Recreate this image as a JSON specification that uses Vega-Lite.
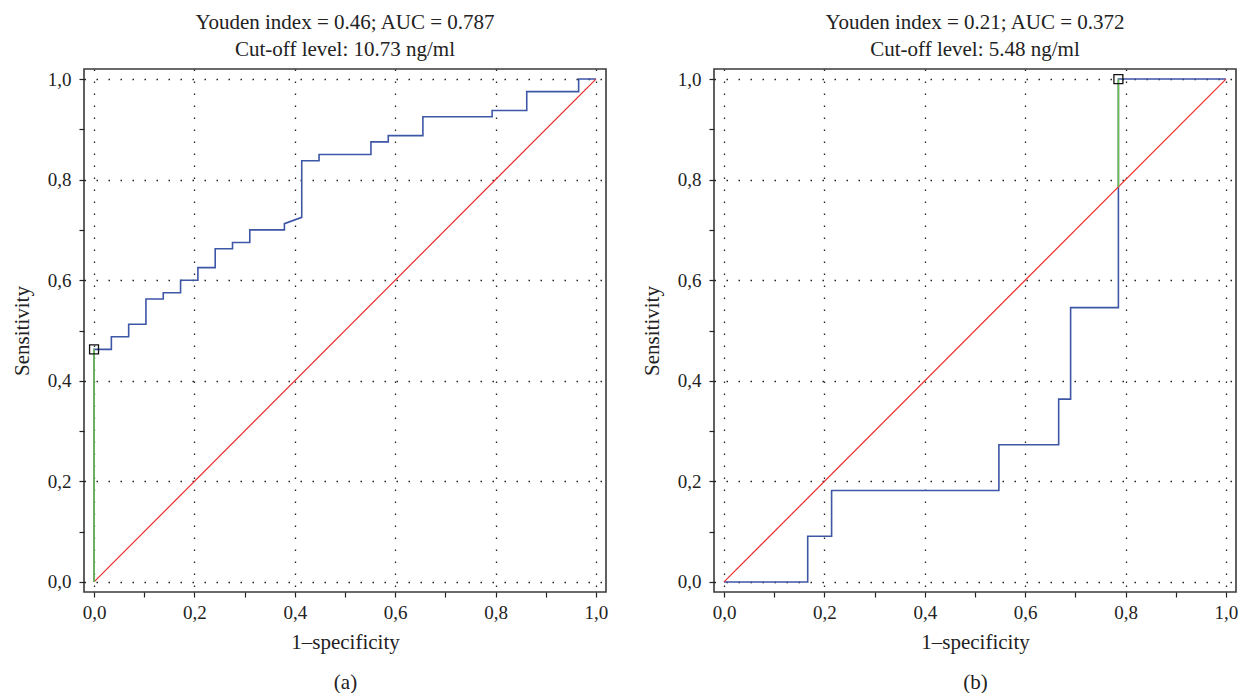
{
  "$schema": "https://vega.github.io/schema/vega-lite/v6.json",
  "padding": {"left": 10, "top": 11, "right": 0, "bottom": 0},
  "background": "white",
  "spacing": 108,
  "bounds": "flush",
  "datasets": {
    "rocA": [
      {"x": 0, "y": 0, "o": 0},
      {"x": 0, "y": 0.4625, "o": 1},
      {"x": 0.0345, "y": 0.4625, "o": 2},
      {"x": 0.0345, "y": 0.4875, "o": 3},
      {"x": 0.069, "y": 0.4875, "o": 4},
      {"x": 0.069, "y": 0.5125, "o": 5},
      {"x": 0.1034, "y": 0.5125, "o": 6},
      {"x": 0.1034, "y": 0.5625, "o": 7},
      {"x": 0.1379, "y": 0.5625, "o": 8},
      {"x": 0.1379, "y": 0.575, "o": 9},
      {"x": 0.1724, "y": 0.575, "o": 10},
      {"x": 0.1724, "y": 0.6, "o": 11},
      {"x": 0.2069, "y": 0.6, "o": 12},
      {"x": 0.2069, "y": 0.625, "o": 13},
      {"x": 0.2414, "y": 0.625, "o": 14},
      {"x": 0.2414, "y": 0.6625, "o": 15},
      {"x": 0.2759, "y": 0.6625, "o": 16},
      {"x": 0.2759, "y": 0.675, "o": 17},
      {"x": 0.3103, "y": 0.675, "o": 18},
      {"x": 0.3103, "y": 0.7, "o": 19},
      {"x": 0.3793, "y": 0.7, "o": 20},
      {"x": 0.3793, "y": 0.7125, "o": 21},
      {"x": 0.4138, "y": 0.725, "o": 22},
      {"x": 0.4138, "y": 0.8375, "o": 23},
      {"x": 0.4483, "y": 0.8375, "o": 24},
      {"x": 0.4483, "y": 0.85, "o": 25},
      {"x": 0.5517, "y": 0.85, "o": 26},
      {"x": 0.5517, "y": 0.875, "o": 27},
      {"x": 0.5862, "y": 0.875, "o": 28},
      {"x": 0.5862, "y": 0.8875, "o": 29},
      {"x": 0.6552, "y": 0.8875, "o": 30},
      {"x": 0.6552, "y": 0.925, "o": 31},
      {"x": 0.7931, "y": 0.925, "o": 32},
      {"x": 0.7931, "y": 0.9375, "o": 33},
      {"x": 0.8621, "y": 0.9375, "o": 34},
      {"x": 0.8621, "y": 0.975, "o": 35},
      {"x": 0.9655, "y": 0.975, "o": 36},
      {"x": 0.9655, "y": 1, "o": 37},
      {"x": 1, "y": 1, "o": 38}
    ],
    "diagA": [{"x": 0, "y": 0, "o": 0}, {"x": 1, "y": 1, "o": 1}],
    "youdenA": [{"x": 0, "y": 0, "o": 0}, {"x": 0, "y": 0.4625, "o": 1}],
    "cutA": [{"x": 0, "y": 0.4625}],
    "rocB": [
      {"x": 0, "y": 0, "o": 0},
      {"x": 0.1667, "y": 0, "o": 1},
      {"x": 0.1667, "y": 0.0909, "o": 2},
      {"x": 0.2143, "y": 0.0909, "o": 3},
      {"x": 0.2143, "y": 0.1818, "o": 4},
      {"x": 0.5476, "y": 0.1818, "o": 5},
      {"x": 0.5476, "y": 0.2727, "o": 6},
      {"x": 0.6667, "y": 0.2727, "o": 7},
      {"x": 0.6667, "y": 0.3636, "o": 8},
      {"x": 0.6905, "y": 0.3636, "o": 9},
      {"x": 0.6905, "y": 0.5455, "o": 10},
      {"x": 0.7857, "y": 0.5455, "o": 11},
      {"x": 0.7857, "y": 1, "o": 12},
      {"x": 1, "y": 1, "o": 13}
    ],
    "diagB": [{"x": 0, "y": 0, "o": 0}, {"x": 1, "y": 1, "o": 1}],
    "youdenB": [{"x": 0.7857, "y": 0.7857, "o": 0}, {"x": 0.7857, "y": 1, "o": 1}],
    "cutB": [{"x": 0.7857, "y": 1}]
  },
  "config": {
    "font": "Liberation Serif",
    "view": {"stroke": "#3a3a3a", "strokeWidth": 1.6},
    "title": {"font": "Liberation Serif", "fontSize": 21, "fontWeight": "normal", "color": "#222", "lineHeight": 27, "offset": 9, "anchor": "middle"},
    "axis": {
      "values": [0, 0.1, 0.2, 0.3, 0.4, 0.5, 0.6, 0.7, 0.8, 0.9, 1],
      "labelExpr": "round(datum.value*10)%2==0 ? replace(format(datum.value,'.1f'),'.',',') : ''",
      "labelFont": "Liberation Serif",
      "labelFontSize": 19,
      "labelColor": "#222",
      "tickSize": 5,
      "tickColor": "#222",
      "tickWidth": 1.2,
      "domain": false,
      "grid": true,
      "gridColor": "#222",
      "gridWidth": 1.3,
      "gridDash": [1.5, 10.5],
      "gridOpacity": {"condition": {"test": "round(datum.value*10)%2==0", "value": 1}, "value": 0},
      "titleFont": "Liberation Serif",
      "titleFontSize": 21,
      "titleFontWeight": "normal",
      "titleColor": "#222",
      "labelFlush": false,
      "labelOverlap": false
    },
    "axisX": {"titlePadding": 9, "titleLineHeight": 40, "labelPadding": 6},
    "axisY": {"titlePadding": 15, "labelPadding": 8}
  },
  "hconcat": [
    {
      "width": 522,
      "height": 523,
      "title": {"text": ["Youden index = 0.46; AUC = 0.787", "Cut-off level: 10.73 ng/ml"]},
      "layer": [
        {
          "data": {"name": "rocA"},
          "mark": {"type": "line", "color": "#3d56a6", "strokeWidth": 1.6},
          "encoding": {
            "x": {"field": "x", "type": "quantitative", "scale": {"domain": [-0.02, 1.02], "nice": false, "zero": false}, "axis": {"title": ["1–specificity", "(a)"]}},
            "y": {"field": "y", "type": "quantitative", "scale": {"domain": [-0.02, 1.02], "nice": false, "zero": false}, "axis": {"title": "Sensitivity"}},
            "order": {"field": "o"}
          }
        },
        {
          "data": {"name": "diagA"},
          "mark": {"type": "line", "color": "#ee2a2a", "strokeWidth": 1.2},
          "encoding": {"x": {"field": "x", "type": "quantitative"}, "y": {"field": "y", "type": "quantitative"}, "order": {"field": "o"}}
        },
        {
          "data": {"name": "youdenA"},
          "mark": {"type": "line", "color": "#6cc04a", "strokeWidth": 1.6},
          "encoding": {"x": {"field": "x", "type": "quantitative"}, "y": {"field": "y", "type": "quantitative"}, "order": {"field": "o"}}
        },
        {
          "data": {"name": "cutA"},
          "mark": {"type": "point", "shape": "square", "filled": false, "color": "#111", "size": 80, "strokeWidth": 1.3, "opacity": 1},
          "encoding": {"x": {"field": "x", "type": "quantitative"}, "y": {"field": "y", "type": "quantitative"}}
        }
      ]
    },
    {
      "width": 522,
      "height": 523,
      "title": {"text": ["Youden index = 0.21; AUC = 0.372", "Cut-off level: 5.48 ng/ml"]},
      "layer": [
        {
          "data": {"name": "rocB"},
          "mark": {"type": "line", "color": "#3d56a6", "strokeWidth": 1.6},
          "encoding": {
            "x": {"field": "x", "type": "quantitative", "scale": {"domain": [-0.02, 1.02], "nice": false, "zero": false}, "axis": {"title": ["1–specificity", "(b)"]}},
            "y": {"field": "y", "type": "quantitative", "scale": {"domain": [-0.02, 1.02], "nice": false, "zero": false}, "axis": {"title": "Sensitivity"}},
            "order": {"field": "o"}
          }
        },
        {
          "data": {"name": "diagB"},
          "mark": {"type": "line", "color": "#ee2a2a", "strokeWidth": 1.2},
          "encoding": {"x": {"field": "x", "type": "quantitative"}, "y": {"field": "y", "type": "quantitative"}, "order": {"field": "o"}}
        },
        {
          "data": {"name": "youdenB"},
          "mark": {"type": "line", "color": "#6cc04a", "strokeWidth": 1.6},
          "encoding": {"x": {"field": "x", "type": "quantitative"}, "y": {"field": "y", "type": "quantitative"}, "order": {"field": "o"}}
        },
        {
          "data": {"name": "cutB"},
          "mark": {"type": "point", "shape": "square", "filled": false, "color": "#111", "size": 80, "strokeWidth": 1.3, "opacity": 1},
          "encoding": {"x": {"field": "x", "type": "quantitative"}, "y": {"field": "y", "type": "quantitative"}}
        }
      ]
    }
  ]
}
